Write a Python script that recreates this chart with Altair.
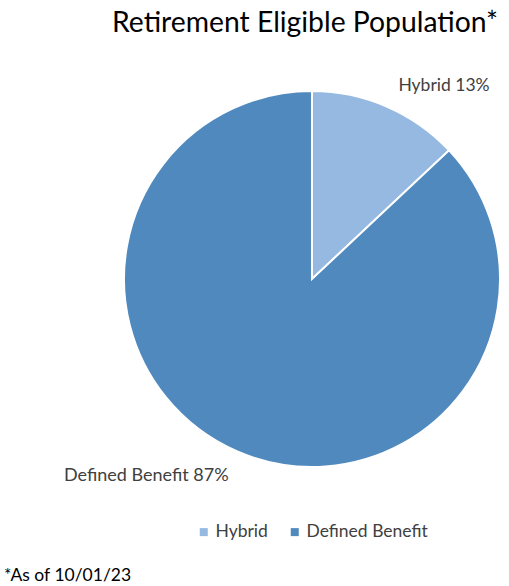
import altair as alt
import pandas as pd

categories = ["Hybrid", "Defined Benefit"]
values = [13, 87]
labels = ["Hybrid 13%", "Defined Benefit 87%"]
colors = ["#95B9E1", "#4F89BE"]

df = pd.DataFrame({"category": categories, "value": values, "label": labels,
                   "order": list(range(len(categories)))})

FONT = "Lato"
CX, CY, R = 312, 279, 188

base = alt.Chart(df).encode(
    theta=alt.Theta("value:Q", stack=True),
    order=alt.Order("order:Q"),
)

pie = base.mark_arc(outerRadius=R, stroke="white", strokeWidth=2).encode(
    x=alt.value(CX), y=alt.value(CY),
    color=alt.Color("category:N", sort=categories,
                    scale=alt.Scale(domain=categories, range=colors),
                    legend=alt.Legend(title=None, orient="none", direction="horizontal",
                                      legendX=195, legendY=523, symbolType="square",
                                      symbolSize=64, labelFont=FONT, labelFontSize=17.5,
                                      labelColor="#404040", columnPadding=18,
                                      labelOffset=3, symbolStrokeWidth=0)),
)

lab_h = base.mark_text(radius=210, align="left", baseline="middle", dx=3,
                       font=FONT, fontSize=17.5, color="#404040").encode(
    x=alt.value(CX), y=alt.value(CY),
    text=alt.Text("lab_h:N"),
).transform_calculate(lab_h="datum.category == 'Hybrid' ? datum.label : ''")

lab_d = base.mark_text(radius=210, align="right", baseline="middle", dy=4,
                       font=FONT, fontSize=18, color="#404040").encode(
    x=alt.value(CX), y=alt.value(CY),
    text=alt.Text("lab_d:N"),
).transform_calculate(lab_d="datum.category == 'Defined Benefit' ? datum.label : ''")

foot = alt.Chart(pd.DataFrame({"t": ["*As of 10/01/23"]})).mark_text(
    align="left", baseline="middle", font=FONT, fontSize=17.5, color="#000000"
).encode(x=alt.value(4), y=alt.value(576), text="t:N")

chart = alt.layer(pie, lab_h, lab_d, foot).properties(
    width=509, height=586,
    title=alt.TitleParams("Retirement Eligible Population*", anchor="end", dx=-11,
                          dy=42, font=FONT, fontSize=28.3, fontWeight="normal",
                          color="#000000"),
    autosize=alt.AutoSizeParams(type="none"),
    padding=0,
).configure_view(stroke=None)

chart.save("out.html", embed_options={"renderer": "svg", "actions": False})
